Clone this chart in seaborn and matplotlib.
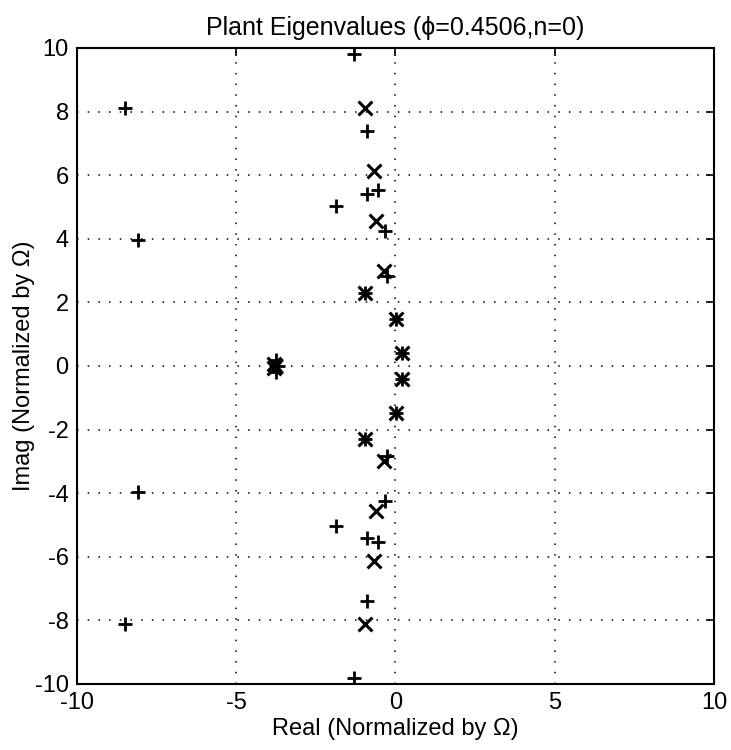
import pandas as pd
import matplotlib
matplotlib.use("Agg")
import matplotlib.pyplot as plt
import seaborn as sns

# poles (x markers), upper half-plane; conjugates mirrored below
pole_re = [-0.95, -0.67, -0.61, -0.37, -0.96, 0.02, 0.19, -3.8]
pole_im = [8.1, 6.13, 4.57, 3.0, 2.3, 1.47, 0.4, 0.05]

# zeros (+ markers), upper half-plane
zero_re = [-8.5, -8.07, -1.3, -0.9, -0.88, -0.56, -1.87, -0.34, -0.26, -0.96, 0.02, 0.19, -3.75]
zero_im = [8.1, 3.95, 9.8, 7.4, 5.42, 5.53, 5.02, 4.23, 2.83, 2.3, 1.47, 0.4, 0.2]
zero_real_axis = [-3.7]

x_ticks = [-10, -5, 0, 5, 10]
y_ticks = [-10, -8, -6, -4, -2, 0, 2, 4, 6, 8, 10]


def mirror(re, im):
    return re + re, im + [-v for v in im]


p_re, p_im = mirror(pole_re, pole_im)
z_re, z_im = mirror(zero_re, zero_im)
z_re = z_re + zero_real_axis
z_im = z_im + [0.0] * len(zero_real_axis)

df_poles = pd.DataFrame({"Real": p_re, "Imag": p_im})
df_zeros = pd.DataFrame({"Real": z_re, "Imag": z_im})

sns.set_style("white")
plt.rcParams["font.family"] = ["Liberation Sans", "DejaVu Sans"]
plt.rcParams["axes.unicode_minus"] = False
plt.rcParams["text.color"] = "black"
plt.rcParams["axes.labelcolor"] = "black"

fig = plt.figure(figsize=(7.31, 7.5), dpi=100)
ax = fig.add_axes([0.1053, 0.088, 0.8714, 0.848])

sns.scatterplot(data=df_poles, x="Real", y="Imag", marker="x", s=100,
                color="black", linewidth=2.2, ax=ax, zorder=3)
sns.scatterplot(data=df_zeros, x="Real", y="Imag", marker="+", s=115,
                color="black", linewidth=2.0, ax=ax, zorder=3)

ax.set_xlim(-10, 10)
ax.set_ylim(-10, 10)
ax.set_xticks(x_ticks)
ax.set_yticks(y_ticks)
ax.grid(True, color="black", linestyle=(0, (1, 6)), linewidth=1.1)
for s in ax.spines.values():
    s.set_color("black")
    s.set_linewidth(1.5)
ax.tick_params(direction="in", top=True, right=True, length=6, width=1.2,
               labelsize=17, colors="black")
ax.tick_params(axis="x", pad=6)
ax.tick_params(axis="y", pad=6)

ax.set_title("Plant Eigenvalues (\u03d5=0.4506,n=0)", fontsize=18, pad=9, color="black")
ax.set_xlabel("Real (Normalized by \u03a9)", fontsize=17, labelpad=3)
ax.set_ylabel("Imag (Normalized by \u03a9)", fontsize=17, labelpad=0)

fig.savefig("out.png", dpi=100)
